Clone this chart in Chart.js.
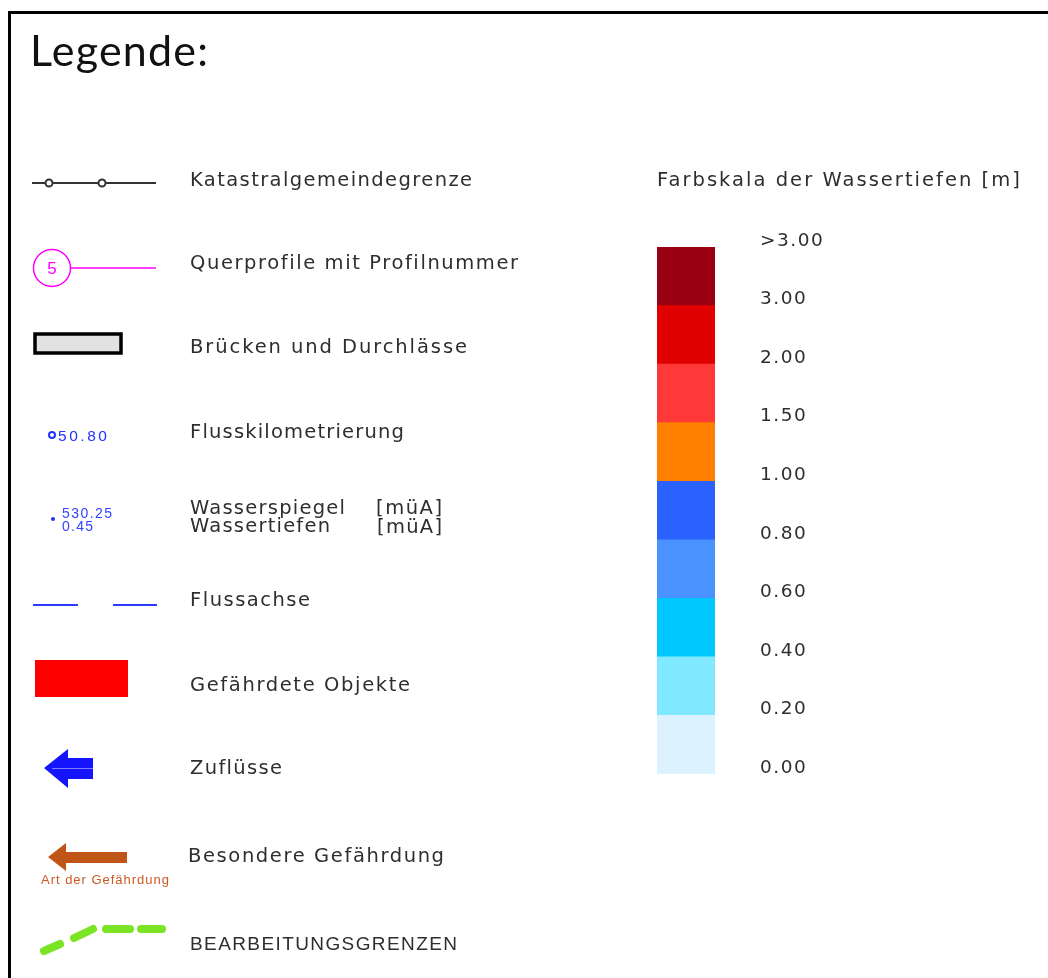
<!DOCTYPE html>
<html><head><meta charset="utf-8">
<script src="https://cdn.jsdelivr.net/npm/chart.js@4.4.1/dist/chart.umd.min.js"></script>
<style>html,body{margin:0;padding:0;background:#fff;overflow:hidden}canvas{display:block}</style>
</head><body>
<canvas id="c" width="1048" height="978"></canvas>
<script>
// ---- data ----
const depthClasses = ['0.00–0.20','0.20–0.40','0.40–0.60','0.60–0.80','0.80–1.00','1.00–1.50','1.50–2.00','2.00–3.00','>3.00'];
const bandValues = [1,1,1,1,1,1,1,1,1];
const bandColors = ['#ddf2ff','#80e8ff','#00c8ff','#4a92ff','#2a62ff','#ff8000','#ff3838','#e00000','#990012'];
const tickLabels = ['0.00','0.20','0.40','0.60','0.80','1.00','1.50','2.00','3.00','>3.00'];
const legendTitle = 'Legende:';
const scaleTitle = 'Farbskala der Wassertiefen [m]';
const legendItems = ['Katastralgemeindegrenze','Querprofile mit Profilnummer','Brücken und Durchlässe','Flusskilometrierung','Wasserspiegel','Wassertiefen','Flussachse','Gefährdete Objekte','Zuflüsse','Besondere Gefährdung','BEARBEITUNGSGRENZEN'];
const unitLabel = '[müA]';
const profileNo = '5';
const kmSample = '50.80';
const wspSample = ['530.25','0.45'];
const hazardCaption = 'Art der Gefährdung';

const CAD = '"DejaVu Sans"';
const TXT = '#2e2e2e';

function fitText(ctx, txt, x, y, w, font, color){
  ctx.save();
  ctx.font = font; ctx.fillStyle = color; ctx.textAlign='left'; ctx.textBaseline='alphabetic';
  ctx.letterSpacing = '0px';
  const m = ctx.measureText(txt).width;
  const n = [...txt].length;
  const ls = n>1 ? (w-m)/(n-1) : 0;
  ctx.letterSpacing = ls.toFixed(2)+'px';
  ctx.fillText(txt, x, y);
  ctx.restore();
}

const legendPlugin = {
  id:'legendDecor',
  beforeDraw(chart){
    const ctx = chart.ctx;
    ctx.save(); ctx.fillStyle='#fff'; ctx.fillRect(0,0,chart.width,chart.height); ctx.restore();
    ctx.letterSpacing = '1.5px';
  },
  afterDraw(chart){
    const ctx = chart.ctx;
    ctx.letterSpacing = '0px';
    ctx.save();
    // frame
    ctx.fillStyle='#000';
    ctx.fillRect(8,11,3,chart.height-11);
    ctx.fillRect(8,11,chart.width-8,3);
    // title
    fitText(ctx, legendTitle, 30, 66, 178, '400 43px Lato', '#111');
    const f = '400 19.5px '+CAD;
    // 1 Katastralgemeindegrenze
    ctx.strokeStyle='#333'; ctx.lineWidth=2;
    ctx.beginPath(); ctx.moveTo(32,183); ctx.lineTo(156,183); ctx.stroke();
    [49,102].forEach(cx=>{ctx.beginPath(); ctx.arc(cx,183,3.5,0,Math.PI*2); ctx.fillStyle='#fff'; ctx.fill(); ctx.stroke();});
    fitText(ctx, legendItems[0], 190, 186, 282, f, TXT);
    // 2 Querprofile
    ctx.strokeStyle='#ff00ff'; ctx.lineWidth=1.5;
    ctx.beginPath(); ctx.arc(52,268,18.5,0,Math.PI*2); ctx.stroke();
    ctx.beginPath(); ctx.moveTo(70.5,268); ctx.lineTo(156,268); ctx.stroke();
    ctx.fillStyle='#ff00ff'; ctx.font='17px "Liberation Sans"'; ctx.textAlign='center'; ctx.textBaseline='middle';
    ctx.fillText(profileNo, 52, 269);
    ctx.textAlign='left'; ctx.textBaseline='alphabetic';
    fitText(ctx, legendItems[1], 190, 269, 328, f, TXT);
    // 3 Brücken
    ctx.fillStyle='#e2e2e2'; ctx.fillRect(35,334,86,19);
    ctx.strokeStyle='#000'; ctx.lineWidth=3.5; ctx.strokeRect(35,334,86,19);
    fitText(ctx, legendItems[2], 190, 353, 277, f, TXT);
    // 4 Flusskilometrierung
    ctx.strokeStyle='#1f2fff'; ctx.lineWidth=2;
    ctx.beginPath(); ctx.arc(52,435,3,0,Math.PI*2); ctx.stroke();
    fitText(ctx, kmSample, 58, 441, 49, '15.5px "Liberation Sans"', '#2233ff');
    fitText(ctx, legendItems[3], 190, 438, 214, f, TXT);
    // 5 Wasserspiegel / Wassertiefen
    ctx.fillStyle='#2233ee'; ctx.beginPath(); ctx.arc(53,519,2,0,Math.PI*2); ctx.fill();
    fitText(ctx, wspSample[0], 62, 518, 50, '14px "Liberation Sans"', '#3344ff');
    fitText(ctx, wspSample[1], 62, 531, 31, '14px "Liberation Sans"', '#3344ff');
    fitText(ctx, legendItems[4], 190, 514, 155, f, TXT);
    fitText(ctx, legendItems[5], 190, 532, 140, f, TXT);
    fitText(ctx, unitLabel, 376, 514, 66, f, TXT);
    fitText(ctx, unitLabel, 377, 533, 65, f, TXT);
    // 6 Flussachse
    ctx.strokeStyle='#2a3cff'; ctx.lineWidth=2;
    ctx.beginPath(); ctx.moveTo(33,605); ctx.lineTo(78,605); ctx.moveTo(113,605); ctx.lineTo(157,605); ctx.stroke();
    fitText(ctx, legendItems[6], 190, 606, 120, f, TXT);
    // 7 Gefährdete Objekte
    ctx.fillStyle='#ff0000'; ctx.fillRect(35,660,93,37);
    fitText(ctx, legendItems[7], 190, 691, 220, f, TXT);
    // 8 Zuflüsse
    ctx.fillStyle='#1414ff';
    ctx.beginPath();
    ctx.moveTo(44,768); ctx.lineTo(68,749); ctx.lineTo(68,758); ctx.lineTo(93,758);
    ctx.lineTo(93,779); ctx.lineTo(68,779); ctx.lineTo(68,788); ctx.closePath(); ctx.fill();
    ctx.strokeStyle='rgba(150,150,255,0.8)'; ctx.lineWidth=1;
    ctx.beginPath(); ctx.moveTo(52,768.5); ctx.lineTo(93,768.5); ctx.stroke();
    fitText(ctx, legendItems[8], 190, 774, 92, f, TXT);
    // 9 Besondere Gefährdung
    ctx.fillStyle='#c05518';
    ctx.beginPath();
    ctx.moveTo(48,857); ctx.lineTo(66,843); ctx.lineTo(66,852); ctx.lineTo(127,852);
    ctx.lineTo(127,863); ctx.lineTo(66,863); ctx.lineTo(66,871); ctx.closePath(); ctx.fill();
    fitText(ctx, hazardCaption, 41, 884, 128, '13px "Liberation Sans"', '#c85a20');
    fitText(ctx, legendItems[9], 188, 862, 256, f, TXT);
    // 10 Bearbeitungsgrenzen
    ctx.strokeStyle='#7be424'; ctx.lineWidth=8; ctx.lineCap='round';
    [[44,951,60,944],[74,938,93,929],[106,929,130,929],[141,929,162,929]].forEach(s=>{
      ctx.beginPath(); ctx.moveTo(s[0],s[1]); ctx.lineTo(s[2],s[3]); ctx.stroke();
    });
    ctx.lineCap='butt';
    fitText(ctx, legendItems[10], 190, 950, 267, '19px "Liberation Sans Narrow", "Liberation Sans"', TXT);
    // colour scale title
    fitText(ctx, scaleTitle, 657, 186, 363, f, TXT);
    ctx.restore();
  }
};

new Chart(document.getElementById('c').getContext('2d'), {
  type:'bar',
  data:{
    labels:['Wassertiefe'],
    datasets: depthClasses.map((c,i)=>({label:c, data:[bandValues[i]], backgroundColor:bandColors[i], borderWidth:0, barPercentage:1, categoryPercentage:1}))
  },
  options:{
    responsive:false, animation:false, devicePixelRatio:1,
    layout:{padding:{left:657, right:0, top:247, bottom:978-774}},
    plugins:{legend:{display:false}, tooltip:{enabled:false}, title:{display:false}},
    scales:{
      x:{stacked:true, display:false},
      y:{stacked:true, position:'right', min:0, max:9,
         grid:{display:false}, border:{display:false},
         afterFit:(s)=>{ s.width = 1048-715; },
         ticks:{stepSize:1, autoSkip:false, padding:37, labelOffset:-6, color:'#2e2e2e',
                font:{family:'DejaVu Sans', size:18.5, weight:'400'},
                callback:(v)=>tickLabels[v]}
      }
    }
  },
  plugins:[legendPlugin]
});
</script>
</body></html>
